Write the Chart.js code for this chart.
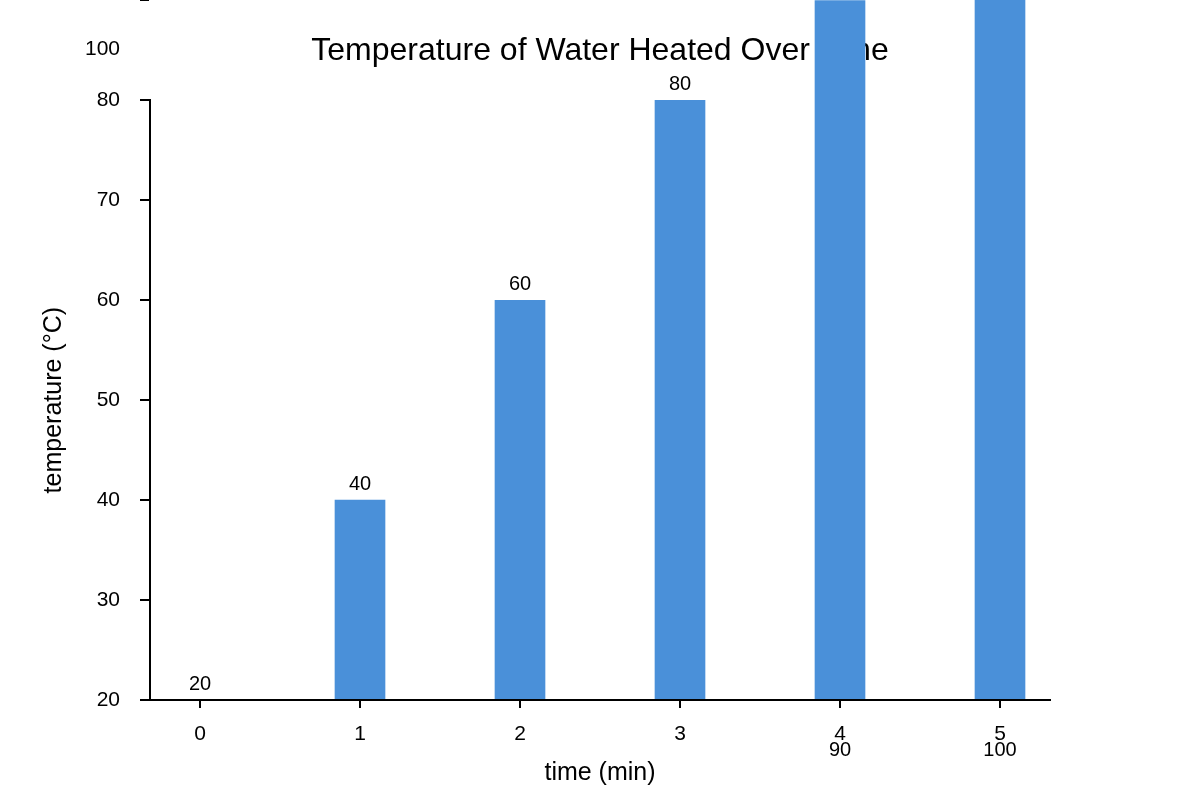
<!DOCTYPE html>
<html>
<head>
<meta charset="utf-8">
<script src="https://cdn.jsdelivr.net/npm/chart.js@4/dist/chart.umd.min.js"></script>
<style>
  body { margin: 0; background: #fff; }
  canvas { display: block; }
</style>
</head>
<body>
<canvas id="chart" width="1200" height="800"></canvas>
<script>
// data
const times = [0, 1, 2, 3, 4, 5];
const temps = [20, 40, 60, 80, 90, 100];
const yTicks = [20, 30, 40, 50, 60, 70, 80, 90];
const extraYLabel = '100';
const yMin = 20;
const yMax = 80;

const FONT = '"Liberation Sans", Arial, sans-serif';
const barColor = '#4a90d9';

// labels above the bars, or under the axis when the bar runs off the scale
const barLabels = {
    id: 'barLabels',
    afterDatasetsDraw(chart) {
        const ctx = chart.ctx;
        const y = chart.scales.y;
        const meta = chart.getDatasetMeta(0);
        ctx.save();
        ctx.font = '20px ' + FONT;
        ctx.fillStyle = '#000';
        ctx.textAlign = 'center';
        ctx.textBaseline = 'middle';
        meta.data.forEach((bar, i) => {
            let v = temps[i];
            if (v > y.max) {
                ctx.fillText(String(v), bar.x, chart.chartArea.bottom + 50);
            } else {
                ctx.fillText(String(v), bar.x, bar.y - 16);
            }
        });
        ctx.restore();
    },
    afterDraw(chart) {
        // the stray "100" label sitting under the top tick
        const ctx = chart.ctx;
        const y = chart.scales.y;
        ctx.save();
        ctx.font = '21px ' + FONT;
        ctx.fillStyle = '#000';
        ctx.textAlign = 'right';
        ctx.textBaseline = 'middle';
        ctx.fillText(extraYLabel, y.right - 30, y.getPixelForValue(yTicks[yTicks.length - 1]) + 49);
        ctx.restore();
    }
};

const data = {
    datasets: [{
        label: 'temperature',
        data: times.map((t, i) => ({x: t, y: temps[i]})),
        backgroundColor: barColor,
        borderWidth: 0,
        barThickness: 50,
        base: yMin,
        clip: false
    }]
};

const config = {
    type: 'bar',
    data: data,
    options: {
        responsive: false,
        animation: false,
        devicePixelRatio: 1,
        layout: {padding: 0},
        plugins: {
            legend: {display: false},
            tooltip: {enabled: false},
            title: {
                display: true,
                text: 'Temperature of Water Heated Over Time',
                color: '#000',
                font: {family: FONT, size: 32, weight: 'normal'},
                padding: {top: 32, bottom: 30}
            }
        },
        scales: {
            x: {
                type: 'linear',
                min: -0.3125,
                max: 5.3125,
                offset: false,
                afterBuildTicks: (scale) => { scale.ticks = times.map(v => ({value: v})); },
                afterFit: (scale) => { scale.height = 100; },
                grid: {offset: false, drawOnChartArea: false, color: '#000', lineWidth: 2, tickLength: 8, z: 1},
                border: {display: true, color: '#000', width: 2, z: 1},
                ticks: {color: '#000', font: {family: FONT, size: 21}, padding: 14, autoSkip: false, maxRotation: 0},
                title: {display: true, text: 'time (min)', color: '#000', font: {family: FONT, size: 25}, padding: {top: 0, bottom: 12}}
            },
            y: {
                min: yMin,
                max: yMax,
                beginAtZero: false,
                afterBuildTicks: (scale) => { scale.ticks = yTicks.map(v => ({value: v})); },
                afterFit: (scale) => { scale.width = 150; },
                grid: {drawOnChartArea: false, color: '#000', lineWidth: 2, tickLength: 10},
                border: {display: true, color: '#000', width: 2},
                ticks: {
                    color: '#000',
                    font: {family: FONT, size: 21},
                    padding: 20,
                    autoSkip: false,
                    callback: (v) => (v > yMax ? '' : v)
                },
                title: {display: true, text: 'temperature (°C)', color: '#000', font: {family: FONT, size: 25}, padding: {top: 39, bottom: 0}}
            },
            // empty right margin so the plot and title stay centred
            yRight: {
                type: 'linear',
                position: 'right',
                min: yMin,
                max: yMax,
                afterFit: (scale) => { scale.width = 150; },
                grid: {display: false},
                border: {display: false},
                ticks: {display: false}
            }
        }
    },
    plugins: [barLabels]
};

let c = document.getElementById('chart').getContext('2d');
new Chart(c, config);
</script>
</body>
</html>
